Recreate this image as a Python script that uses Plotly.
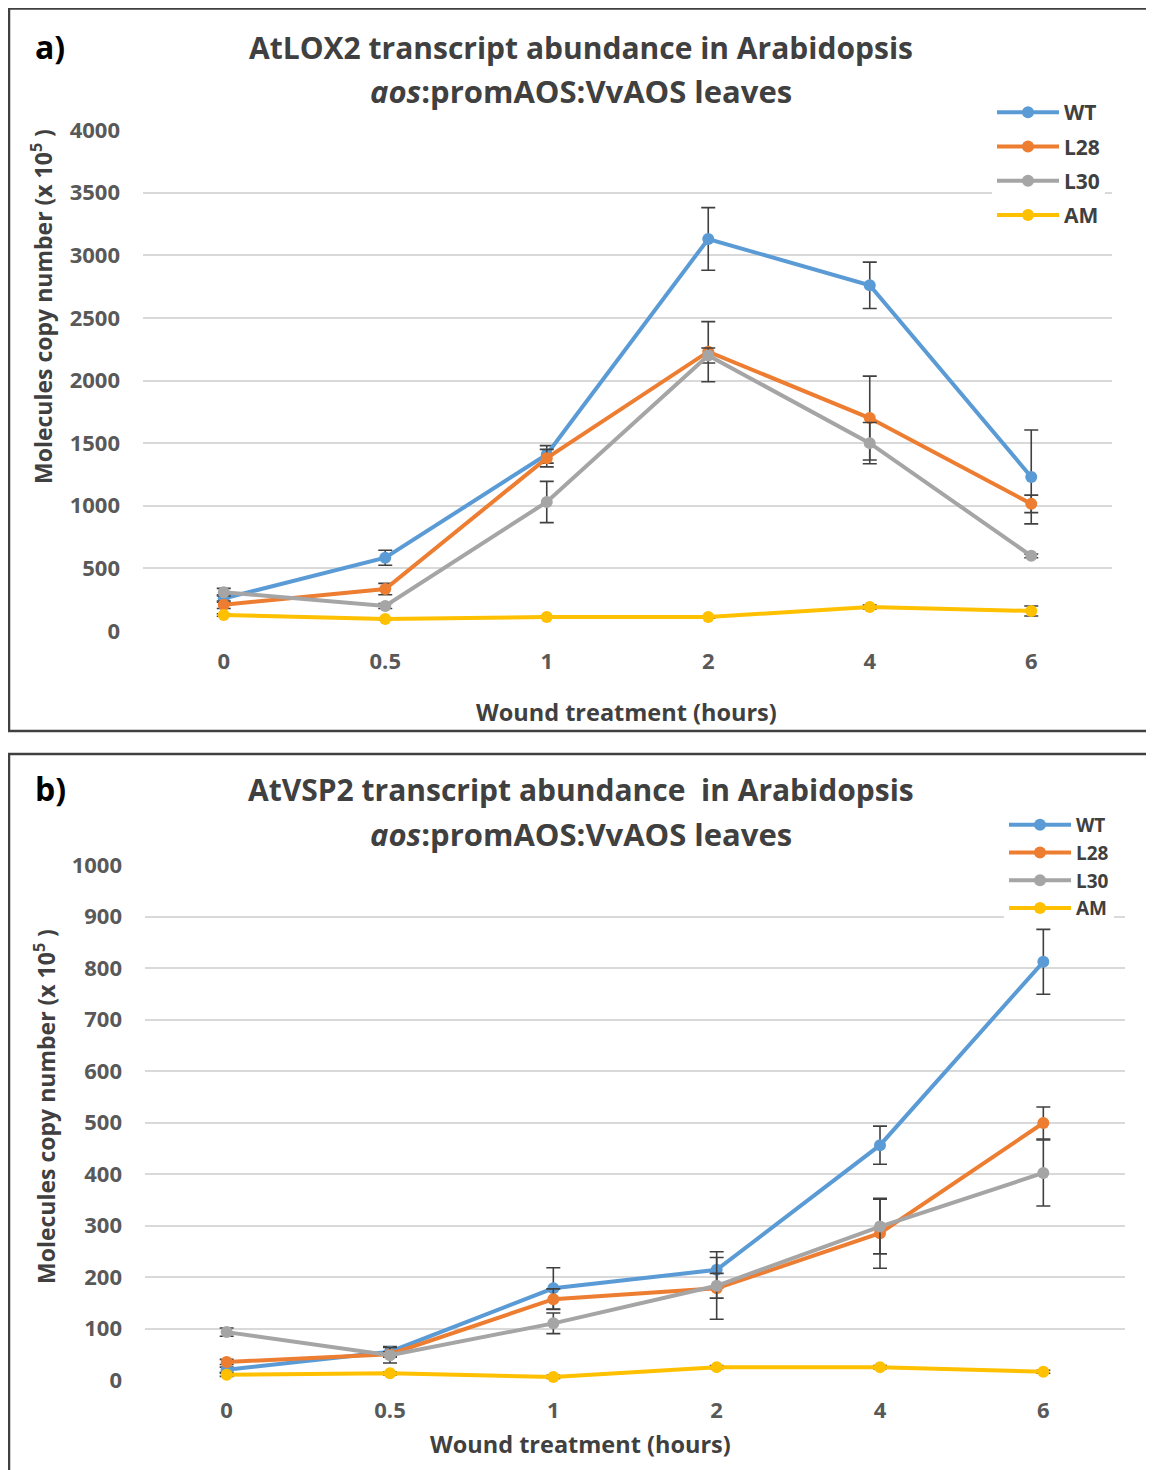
import plotly.graph_objects as go

# Page offset: the browser adds an 8px body margin, so figure is sized to fill the rest.
OFF = 8
W, H = 1154 - OFF, 1470 - OFF

hours = ["0", "0.5", "1", "2", "4", "6"]
series_names = ["WT", "L28", "L30", "AM"]
colors = ["#5B9BD5", "#ED7D31", "#A5A5A5", "#FFC000"]

# Panel a: AtLOX2
lox_wt = [260, 585, 1410, 3130, 2760, 1230]
lox_wt_err = [30, 60, 70, 250, 185, 375]
lox_l28 = [210, 335, 1380, 2230, 1700, 1015]
lox_l28_err = [30, 45, 70, 240, 335, 70]
lox_l30 = [310, 200, 1030, 2200, 1500, 600]
lox_l30_err = [30, 20, 165, 60, 165, 15]
lox_am = [128, 96, 112, 112, 192, 160]
lox_am_err = [10, 10, 10, 10, 15, 40]

# Panel b: AtVSP2
vsp_wt = [20, 55, 178, 214, 456, 812]
vsp_wt_err = [5, 10, 40, 35, 37, 63]
vsp_l28 = [35, 50, 157, 178, 285, 499]
vsp_l28_err = [5, 5, 20, 60, 68, 31]
vsp_l30 = [93, 48, 110, 183, 298, 402]
vsp_l30_err = [8, 15, 20, 24, 53, 64]
vsp_am = [10, 13, 6, 25, 25, 16]
vsp_am_err = [3, 3, 3, 3, 3, 3]

lox_vals = [lox_wt, lox_l28, lox_l30, lox_am]
lox_errs = [lox_wt_err, lox_l28_err, lox_l30_err, lox_am_err]
vsp_vals = [vsp_wt, vsp_l28, vsp_l30, vsp_am]
vsp_errs = [vsp_wt_err, vsp_l28_err, vsp_l30_err, vsp_am_err]

FONT = "Open Sans"
TICK_C = "#595959"
TXT_C = "#404040"


def px(xp):
    return (xp - OFF) / W


def py(yp):
    return 1 - (yp - OFF) / H


fig = go.Figure()

for i, name in enumerate(series_names):
    fig.add_trace(go.Scatter(
        x=hours, y=lox_vals[i], name=name, mode="lines+markers",
        line=dict(color=colors[i], width=4),
        marker=dict(color=colors[i], size=12),
        error_y=dict(type="data", array=lox_errs[i], color="#404040", thickness=1.6, width=7),
        xaxis="x", yaxis="y", legend="legend", legendgroup="a" + name,
        cliponaxis=False,
    ))
for i, name in enumerate(series_names):
    fig.add_trace(go.Scatter(
        x=hours, y=vsp_vals[i], name=name, mode="lines+markers",
        line=dict(color=colors[i], width=4),
        marker=dict(color=colors[i], size=12),
        error_y=dict(type="data", array=vsp_errs[i], color="#404040", thickness=1.6, width=7),
        xaxis="x2", yaxis="y2", legend="legend2", legendgroup="b" + name,
        cliponaxis=False,
    ))

tickfont = dict(family=FONT, size=22, color=TICK_C, weight="bold")
xcommon = dict(type="category", range=[-0.5, 5.5], showgrid=False, zeroline=False,
               showline=False, ticks="", tickfont=tickfont, ticklabelstandoff=15,
               fixedrange=True, automargin=False)
ycommon = dict(showgrid=True, gridcolor="#D9D9D9", gridwidth=1.5, zeroline=False,
               showline=False, ticks="", tickfont=tickfont, ticklabelstandoff=22,
               fixedrange=True, automargin=False)

fig.update_layout(
    width=W, height=H, autosize=False,
    margin=dict(l=0, r=0, t=0, b=0, pad=0, autoexpand=False),
    paper_bgcolor="white", plot_bgcolor="white",
    font=dict(family=FONT, color=TXT_C),
    xaxis=dict(domain=[px(143), px(1112)], anchor="y", **xcommon),
    yaxis=dict(domain=[py(631), py(130)], anchor="x", range=[0, 4000], dtick=500, **ycommon),
    xaxis2=dict(domain=[px(145), px(1125)], anchor="y2", **xcommon),
    yaxis2=dict(domain=[py(1380), py(865)], anchor="x2", range=[0, 1000], dtick=100, **ycommon),
    legend=dict(x=px(992), y=py(92), xanchor="left", yanchor="top",
                bgcolor="white", borderwidth=0, itemwidth=62,
                font=dict(family=FONT, size=21, color=TXT_C, weight="bold"),
                tracegroupgap=4),
    legend2=dict(x=px(1004), y=py(806), xanchor="left", yanchor="top",
                 bgcolor="white", borderwidth=0, itemwidth=62,
                 font=dict(family=FONT, size=19, color=TXT_C, weight="bold"),
                 tracegroupgap=0),
    showlegend=True,
)

shapes = [
    dict(type="rect", xref="paper", yref="paper", x0=px(9), x1=1.02, y0=py(731), y1=py(8.5),
         line=dict(color="#404040", width=2.5), fillcolor="rgba(0,0,0,0)", layer="above"),
    dict(type="rect", xref="paper", yref="paper", x0=px(9), x1=1.02, y0=-0.02, y1=py(754),
         line=dict(color="#404040", width=2.5), fillcolor="rgba(0,0,0,0)", layer="above"),
]
fig.update_layout(shapes=shapes)

ann = []


def add_text(text, x, y, size, color=TXT_C, angle=0, xanchor="center", bold=True):
    ann.append(dict(text=text, x=px(x), y=py(y), xref="paper", yref="paper",
                    xanchor=xanchor, yanchor="middle", showarrow=False, textangle=angle,
                    font=dict(family=FONT, size=size, color=color,
                              weight="bold" if bold else "normal")))


add_text("a)", 33, 46, 32, color="black", xanchor="left")
add_text("AtLOX2 transcript abundance in Arabidopsis", 581, 47, 30)
add_text("<i>aos</i>:promAOS:VvAOS leaves", 581, 91, 31)
add_text("Wound treatment (hours)", 626, 712, 23.5)
add_text("Molecules copy number (x 10<sup>5</sup> )", 42, 307, 23, angle=-90)

add_text("b)", 33, 788, 32, color="black", xanchor="left")
add_text("AtVSP2 transcript abundance  in Arabidopsis", 581, 790, 30)
add_text("<i>aos</i>:promAOS:VvAOS leaves", 581, 834, 31)
add_text("Wound treatment (hours)", 580, 1444, 23.5)
add_text("Molecules copy number (x 10<sup>5</sup> )", 45, 1107, 23, angle=-90)

fig.update_layout(annotations=ann)

fig.write_html("out.html")
